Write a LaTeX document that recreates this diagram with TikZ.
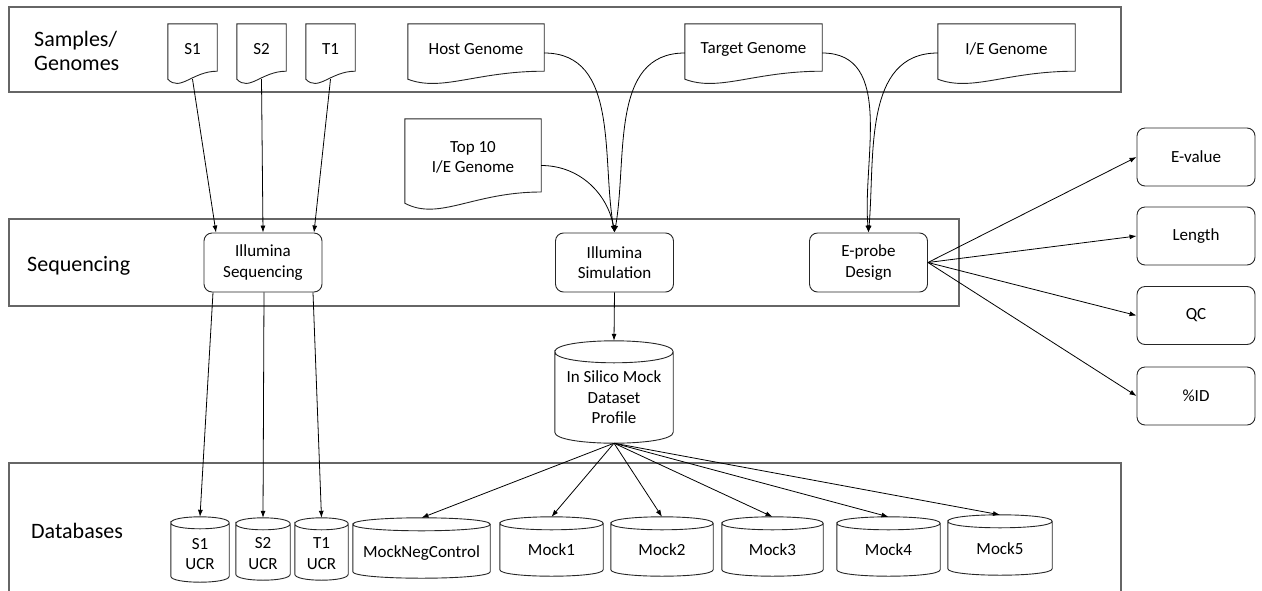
\documentclass[tikz,border=0pt]{standalone}
\usepackage{fontspec}
\setmainfont{Carlito}
\usetikzlibrary{arrows.meta,calc}

\newcommand{\docdraw}[2]{%
  \draw[shapeline] (#1.north west) -- (#1.north east) -- ([yshift=#2*3pt]#1.south east)
    .. controls ([yshift=#2*3pt]$(#1.south west)!0.5!(#1.south east)$) and ([yshift=-#2*18pt]$(#1.south west)!0.25!(#1.south east)$) .. ([yshift=-#2*5pt]#1.south west) -- cycle;}

\newcommand{\cyldraw}[2]{%
  \draw[shapeline] ([yshift=-#2pt]#1.north west)
    .. controls ([yshift=#2pt/3]#1.north west) and ([yshift=#2pt/3]#1.north east) .. ([yshift=-#2pt]#1.north east)
    .. controls ([yshift=-7*#2pt/3]#1.north east) and ([yshift=-7*#2pt/3]#1.north west) .. ([yshift=-#2pt]#1.north west)
    -- ([yshift=#2pt]#1.south west)
    .. controls ([yshift=-#2pt/3]#1.south west) and ([yshift=-#2pt/3]#1.south east) .. ([yshift=#2pt]#1.south east)
    -- ([yshift=-#2pt]#1.north east);}

\newcommand{\lowtext}[2]{\raisebox{-#1}[\height][\depth]{\begin{tabular}{@{}c@{}}#2\end{tabular}}}

\tikzset{
  shapeline/.style={line width=0.9pt, draw=black!85},
  band/.style={line width=1.3pt, draw=black!60},
  txt/.style={font=\fontsize{17}{20.5}\selectfont, align=center, inner sep=0pt, text=black},
  docnode/.style={txt, minimum height=50pt},
  proc/.style={txt, draw=black!85, line width=0.9pt, rounded corners=8pt, minimum width=118pt, minimum height=59pt},
  cylnode/.style={txt},
  arr/.style={-{Latex[length=7pt,width=5pt]}, line width=0.8pt},
  bandlabel/.style={font=\fontsize{22}{23.5}\selectfont, align=left, inner sep=0pt, text=black},
}

\begin{document}
\begin{tikzpicture}[x=1pt, y=-1pt]
\useasboundingbox (0,0) rectangle (1262,590);

% bands
\draw[band] (9,7) rectangle (1121,92);
\draw[band] (9,219) rectangle (959,306);
\draw[band] (9,592) -- (9,463) -- (1121,463) -- (1121,592);

% band labels
\node[bandlabel, anchor=west] (lsg) at (34,51) {Samples/\\Genomes};
\node[bandlabel, anchor=base west] (lseq) at (27,271) {Sequencing};
\node[bandlabel, anchor=base west] (ldb) at (31,538) {Databases};

% documents
\node[docnode, minimum width=49pt] (s1) at (192.5,49) {S1};
\node[docnode, minimum width=49pt] (s2) at (261.5,49) {S2};
\node[docnode, minimum width=49pt] (t1) at (330.5,49) {T1};
\node[docnode, minimum width=136pt] (host) at (476,49) {Host Genome};
\node[docnode, minimum width=137pt] (target) at (753.5,49) {Target Genome};
\node[docnode, minimum width=137pt] (ie) at (1006.5,49) {I/E Genome};
\node[docnode, minimum width=136pt, minimum height=77pt] (top10) at (473,157.5) {Top 10\\I/E Genome};
\docdraw{s1}{1}
\docdraw{s2}{1}
\docdraw{t1}{1}
\docdraw{host}{1}
\docdraw{target}{1}
\docdraw{ie}{1}
\docdraw{top10}{1.4}

% processes
\node[proc] (ils) at (263,262.5) {Illumina\\Sequencing};
\node[proc] (isim) at (614.5,262.5) {Illumina\\Simulation};
\node[proc] (epd) at (868.5,262.5) {E-probe\\Design};

\node[proc, minimum height=58pt] (ev) at (1196,157) {E-value};
\node[proc, minimum height=58pt] (len) at (1196,236) {Length};
\node[proc, minimum height=58pt] (qc) at (1196,315.5) {QC};
\node[proc, minimum height=58pt] (pid) at (1196,396) {\%ID};

% cylinders
\node[cylnode, minimum width=118pt, minimum height=102pt] (isc) at (614,392) {\lowtext{7pt}{In Silico Mock\\Dataset\\Profile}};
\node[cylnode, minimum width=58pt, minimum height=65pt] (s1u) at (200,549.5) {\lowtext{6pt}{S1\\UCR}};
\node[cylnode, minimum width=54pt, minimum height=62pt] (s2u) at (263,549) {\lowtext{6pt}{S2\\UCR}};
\node[cylnode, minimum width=53pt, minimum height=62pt] (t1u) at (321.5,549) {\lowtext{6pt}{T1\\UCR}};
\node[cylnode, minimum width=137pt, minimum height=60pt] (mneg) at (421.5,548) {\lowtext{5pt}{MockNegControl}};
\node[cylnode, minimum width=103pt, minimum height=59pt] (mock1) at (551.5,546.5) {\lowtext{5pt}{Mock1}};
\node[cylnode, minimum width=102pt, minimum height=59pt] (mock2) at (662,546.5) {\lowtext{5pt}{Mock2}};
\node[cylnode, minimum width=101pt, minimum height=59pt] (mock3) at (772.5,546.5) {\lowtext{5pt}{Mock3}};
\node[cylnode, minimum width=103pt, minimum height=59pt] (mock4) at (888.5,546.5) {\lowtext{5pt}{Mock4}};
\node[cylnode, minimum width=104pt, minimum height=60pt] (mock5) at (1000,545) {\lowtext{5pt}{Mock5}};
\cyldraw{isc}{11}
\cyldraw{s1u}{6}
\cyldraw{s2u}{6}
\cyldraw{t1u}{6}
\cyldraw{mneg}{6.5}
\cyldraw{mock1}{6.5}
\cyldraw{mock2}{6.5}
\cyldraw{mock3}{6.5}
\cyldraw{mock4}{6.5}
\cyldraw{mock5}{6.5}

% connectors: samples to sequencing
\draw[arr] ([yshift=-5pt]s1.south) -- ([xshift=-47pt]ils.north);
\draw[arr] ([yshift=-5pt]s2.south) -- ([xshift=0pt]ils.north);
\draw[arr] ([yshift=-5pt]t1.south) -- ([xshift=51pt]ils.north);

% genomes to simulation / design
\draw[arr] ([yshift=-4pt]host.east) to[out=0,in=100] (isim.north);
\draw[arr] ([yshift=-4pt]target.west) to[out=180,in=80] (isim.north);
\draw[arr] ([yshift=-8pt]top10.east) to[out=0,in=100] (isim.north);
\draw[arr] ([yshift=-4pt]target.east) to[out=0,in=95] (epd.north);
\draw[arr] ([yshift=-4pt]ie.west) to[out=180,in=85] (epd.north);

% design outputs
\draw[arr] (epd.east) -- (ev.west);
\draw[arr] (epd.east) -- (len.west);
\draw[arr] (epd.east) -- (qc.west);
\draw[arr] (epd.east) -- (pid.west);

% sequencing to databases
\draw[arr] ([xshift=-50pt]ils.south) -- (s1u.north);
\draw[arr] ([xshift=1pt]ils.south) -- (s2u.north);
\draw[arr] ([xshift=50pt]ils.south) -- (t1u.north);

% simulation to profile
\draw[arr] (isim.south) -- (isc.north);

% profile to mocks
\draw[arr] (isc.south) -- (mneg.north);
\draw[arr] (isc.south) -- (mock1.north);
\draw[arr] (isc.south) -- (mock2.north);
\draw[arr] (isc.south) -- (mock3.north);
\draw[arr] (isc.south) -- (mock4.north);
\draw[arr] (isc.south) -- (mock5.north);
\end{tikzpicture}
\end{document}
